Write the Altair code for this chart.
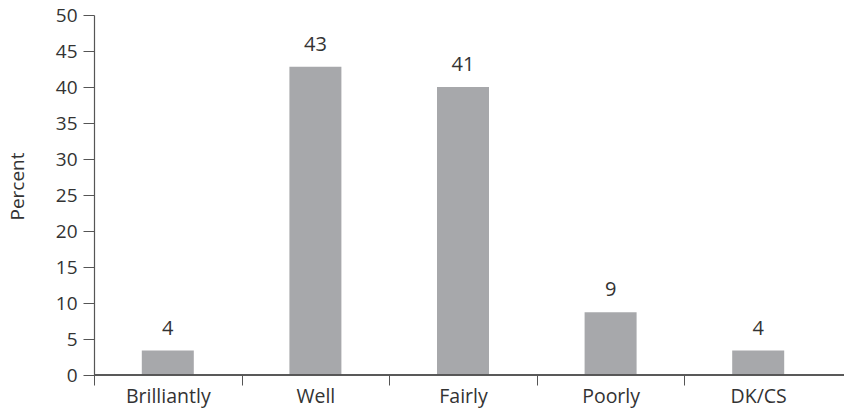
import altair as alt
import pandas as pd

categories = ["Brilliantly", "Well", "Fairly", "Poorly", "DK/CS"]
values = [3.4, 42.8, 40.0, 8.7, 3.4]
labels = ["4", "43", "41", "9", "4"]

df = pd.DataFrame({"cat": categories, "val": values, "lab": labels})

FONT = "Open Sans"
TXT = "#333333"
AX = "#555555"

x = alt.X("cat:N", sort=categories, title=None,
          scale=alt.Scale(paddingInner=0, paddingOuter=0),
          axis=alt.Axis(tickBand="extent", tickExtra=False, labelAngle=0,
                        tickOpacity=alt.condition("datum.value == 'DK/CS'",
                                                  alt.value(0), alt.value(1)),
                        labelFont=FONT, labelFontSize=19.5, labelColor=TXT,
                        labelPadding=2, tickSize=10, tickColor=AX,
                        domain=False, tickWidth=1))
y = alt.Y("val:Q", title="Percent",
          scale=alt.Scale(domain=[0, 50], nice=False),
          axis=alt.Axis(values=list(range(0, 51, 5)), grid=False,
                        labelFont=FONT, labelFontSize=19, labelColor=TXT,
                        labelPadding=6, tickSize=11, tickColor=AX,
                        domainColor=AX, domainWidth=1.2,
                        titleFont=FONT, titleFontSize=19, titleColor=TXT,
                        titleFontWeight="normal", titlePadding=28,
                        titleY=171))

bars = alt.Chart(df).mark_bar(size=52, color="#a7a8ab").encode(x=x, y=y)
text = alt.Chart(df).mark_text(dy=-12, baseline="bottom", font=FONT,
                               fontSize=20, color=TXT).encode(
    x=x, y=y, text="lab:N")
baseline = alt.Chart(df).mark_rule(color=AX, strokeWidth=1.2).encode(
    x=alt.value(0), x2=alt.value(750), y=alt.value(360))

chart = (bars + text + baseline).properties(
    width=738, height=360,
    background="white",
    autosize=alt.AutoSizeParams(type="none"),
    padding={"left": 94, "top": 15, "right": 12, "bottom": 35},
).configure_view(stroke=None)

chart.save("out.html", embed_options={"renderer": "svg", "actions": False})
